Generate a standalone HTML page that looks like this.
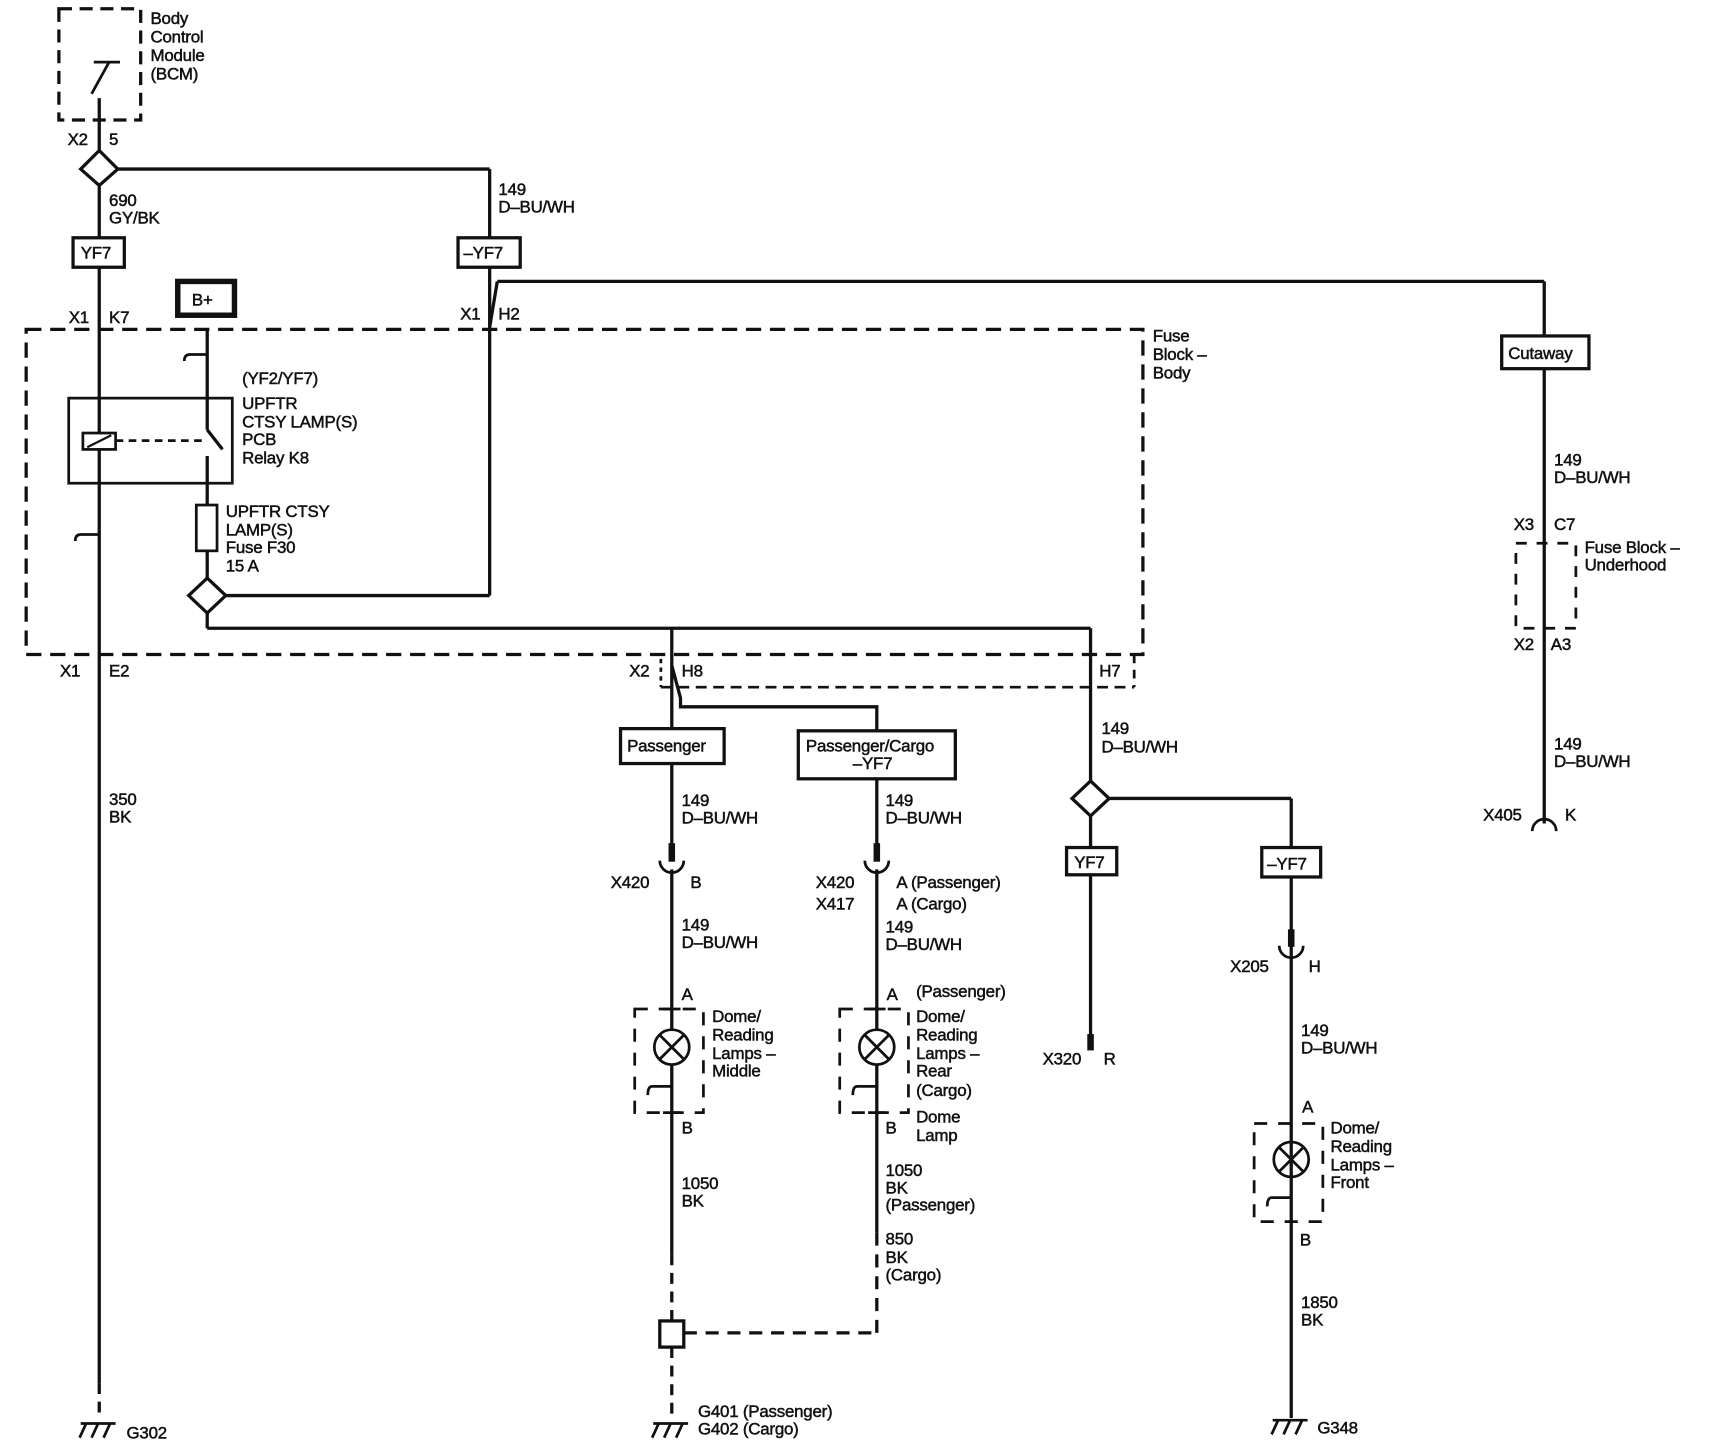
<!DOCTYPE html>
<html><head><meta charset="utf-8"><style>
html,body{margin:0;padding:0;background:#fff;width:1710px;height:1454px;overflow:hidden}
svg{display:block}
text{font-family:"Liberation Sans",Arial,sans-serif;font-size:15.5px;fill:#111;stroke:#111;stroke-width:0.45;letter-spacing:-0.2px}
</style></head><body>
<svg width="1710" height="1454" viewBox="0 0 1568 1333" preserveAspectRatio="none" xmlns="http://www.w3.org/2000/svg">
<g fill="none" stroke="#111" stroke-width="3">
<!-- BCM -->
<rect x="54" y="8" width="75" height="102" stroke-dasharray="12,7"/>
<line x1="86" y1="57" x2="110" y2="57" stroke-width="2.5"/>
<line x1="100" y1="57" x2="84" y2="86" stroke-width="2.5"/>
<!-- wire A -->
<line x1="91" y1="90" x2="91" y2="1268"/>
<line x1="91" y1="1268" x2="91" y2="1302" stroke-dasharray="10,7"/>
<path d="M91,138 L108,155 L91,170 L74,155 Z" fill="#fff"/>
<line x1="108" y1="155" x2="449" y2="155"/>
<line x1="449" y1="155" x2="449" y2="546"/>
<line x1="449" y1="300" x2="456" y2="258"/>
<line x1="456" y1="258" x2="1416" y2="258"/>
<line x1="1416" y1="258" x2="1416" y2="755"/>
<!-- boxes -->
<rect x="67" y="218" width="47" height="27" fill="#fff"/>
<rect x="420" y="218" width="57" height="27" fill="#fff"/>
<rect x="163" y="258" width="52" height="31" stroke-width="5" fill="#fff"/>
<rect x="1377" y="308" width="80" height="30" fill="#fff"/>
<!-- fuse block body -->
<rect x="24" y="302" width="1024" height="298" stroke-dasharray="14,8"/>
<!-- B+ wire -->
<line x1="190" y1="302" x2="190" y2="394"/>
<line x1="190" y1="394" x2="204" y2="412"/>
<line x1="190" y1="418" x2="190" y2="530"/>
<path d="M190,325 L174,325 M174,325 q-5,0 -5,6" stroke-width="2.5"/>
<path d="M91,490 L74,490 M74,490 q-5,0 -5,6" stroke-width="2.5"/>
<rect x="63" y="365" width="150" height="78" stroke-width="2.5"/>
<rect x="76" y="397" width="30" height="15" fill="#fff" stroke-width="2.5"/>
<line x1="80" y1="410" x2="102" y2="399" stroke-width="2"/>
<line x1="106" y1="404" x2="186" y2="404" stroke-dasharray="7,5" stroke-width="2.5"/>
<rect x="180" y="463" width="19" height="42" fill="#fff" stroke-width="2.5"/>
<path d="M190,530 L207,546 L190,562 L173,546 Z" fill="#fff"/>
<line x1="207" y1="546" x2="449" y2="546"/>
<line x1="190" y1="562" x2="190" y2="576"/>
<line x1="190" y1="576" x2="1000" y2="576"/>
<!-- H8 branch -->
<line x1="616" y1="576" x2="616" y2="775"/>
<path d="M616,610 L624,640 L624,648 L804,648 L804,775" />
<line x1="606" y1="604" x2="606" y2="630" stroke-dasharray="4,4" stroke-width="2.5"/>
<line x1="606" y1="630" x2="1040" y2="630" stroke-dasharray="10,6" stroke-width="2.5"/>
<line x1="1040" y1="600" x2="1040" y2="630" stroke-dasharray="8,6" stroke-width="2.5"/>
<rect x="569" y="668" width="95" height="32" fill="#fff"/>
<rect x="732" y="670" width="144" height="44" fill="#fff"/>
<!-- connectors X420 -->
<line x1="616" y1="773" x2="616" y2="790" stroke-width="6"/>
<line x1="804" y1="773" x2="804" y2="790" stroke-width="6"/>
<path d="M605,789 A11,11 0 0 0 627,789" stroke-width="2.5"/>
<path d="M793,789 A11,11 0 0 0 815,789" stroke-width="2.5"/>
<line x1="616" y1="797" x2="616" y2="1150"/>
<line x1="804" y1="797" x2="804" y2="1130"/>
<!-- lamp boxes -->
<rect x="582" y="925" width="63" height="95" stroke-dasharray="12,10" stroke-width="2.5"/>
<rect x="770" y="925" width="63" height="95" stroke-dasharray="12,10" stroke-width="2.5"/>
<rect x="1150" y="1030" width="63" height="90" stroke-dasharray="12,10" stroke-width="2.5"/>
<g stroke-width="2.5">
<circle cx="616" cy="960" r="16" fill="#fff"/><path d="M605,949 L627,971 M627,949 L605,971"/>
<circle cx="804" cy="960" r="16" fill="#fff"/><path d="M793,949 L815,971 M815,949 L793,971"/>
<circle cx="1184" cy="1063" r="16" fill="#fff"/><path d="M1173,1052 L1195,1074 M1195,1052 L1173,1074"/>
<path d="M616,996 L598,996 q-4,0 -4,8"/>
<path d="M804,996 L786,996 q-4,0 -4,8"/>
<path d="M1184,1098 L1166,1098 q-4,0 -4,8"/>
<line x1="608" y1="925" x2="624" y2="925"/><line x1="796" y1="925" x2="812" y2="925"/>
<line x1="608" y1="1020" x2="624" y2="1020"/><line x1="796" y1="1020" x2="812" y2="1020"/>
</g>
<!-- grounds path middle -->
<line x1="616" y1="1150" x2="616" y2="1210" stroke-dasharray="10,7"/>
<rect x="605" y="1211" width="22" height="24" fill="#fff"/>
<line x1="627" y1="1222" x2="804" y2="1222" stroke-dasharray="12,8"/>
<line x1="804" y1="1130" x2="804" y2="1222" stroke-dasharray="12,8"/>
<line x1="616" y1="1235" x2="616" y2="1302" stroke-dasharray="10,7"/>
<!-- H7 wire -->
<line x1="1000" y1="576" x2="1000" y2="716"/>
<path d="M1000,716 L1017,732 L1000,748 L983,732 Z" fill="#fff"/>
<line x1="1017" y1="732" x2="1184" y2="732"/>
<line x1="1000" y1="748" x2="1000" y2="950"/>
<line x1="1000" y1="948" x2="1000" y2="963" stroke-width="6"/>
<rect x="978" y="777" width="46" height="25" fill="#fff"/>
<line x1="1184" y1="732" x2="1184" y2="1300"/>
<rect x="1157" y="777" width="54" height="27" fill="#fff"/>
<line x1="1184" y1="852" x2="1184" y2="868" stroke-width="6"/>
<path d="M1173,867 A11,11 0 0 0 1195,867" stroke-width="2.5"/>
<!-- underhood -->
<rect x="1390" y="498" width="55" height="78" stroke-dasharray="10,9" stroke-width="2.5"/>
<path d="M1405,762 A11,11 0 0 1 1427,762" stroke-width="2.5"/>
<!-- ground symbols -->
<g stroke-width="2.5">
<path d="M74,1305 L106,1305 M79,1305 L73,1318 M90,1305 L84,1318 M101,1305 L95,1318"/>
<path d="M599,1305 L631,1305 M604,1305 L598,1318 M615,1305 L609,1318 M626,1305 L620,1318"/>
<path d="M1167,1302 L1199,1302 M1172,1302 L1166,1315 M1183,1302 L1177,1315 M1194,1302 L1188,1315"/>
</g>
</g>
<g>
<text x="138" y="22">Body</text><text x="138" y="39">Control</text><text x="138" y="56">Module</text><text x="138" y="73">(BCM)</text>
<text x="62" y="133">X2</text><text x="100" y="133">5</text>
<text x="100" y="189">690</text><text x="100" y="205">GY/BK</text>
<text x="457" y="179">149</text><text x="457" y="195">D–BU/WH</text>
<text x="74" y="237">YF7</text><text x="425" y="237">–YF7</text>
<text x="176" y="280">B+</text>
<text x="1383" y="329">Cutaway</text>
<text x="63" y="296">X1</text><text x="100" y="296">K7</text>
<text x="422" y="293">X1</text><text x="457" y="293">H2</text>
<text x="1057" y="313">Fuse</text><text x="1057" y="330">Block –</text><text x="1057" y="347">Body</text>
<text x="222" y="352">(YF2/YF7)</text><text x="222" y="375">UPFTR</text><text x="222" y="392">CTSY LAMP(S)</text><text x="222" y="408">PCB</text><text x="222" y="425">Relay K8</text>
<text x="207" y="474">UPFTR CTSY</text><text x="207" y="491">LAMP(S)</text><text x="207" y="507">Fuse F30</text><text x="207" y="524">15 A</text>
<text x="55" y="620">X1</text><text x="100" y="620">E2</text>
<text x="577" y="620">X2</text><text x="625" y="620">H8</text><text x="1008" y="620">H7</text>
<text x="100" y="738">350</text><text x="100" y="754">BK</text>
<text x="575" y="689">Passenger</text>
<text x="739" y="689">Passenger/Cargo</text><text x="782" y="705">–YF7</text>
<text x="1010" y="673">149</text><text x="1010" y="690">D–BU/WH</text>
<text x="625" y="739">149</text><text x="625" y="755">D–BU/WH</text>
<text x="812" y="739">149</text><text x="812" y="755">D–BU/WH</text>
<text x="985" y="796">YF7</text><text x="1162" y="797">–YF7</text>
<text x="560" y="814">X420</text><text x="633" y="814">B</text>
<text x="748" y="814">X420</text><text x="822" y="814">A (Passenger)</text>
<text x="748" y="834">X417</text><text x="822" y="834">A (Cargo)</text>
<text x="625" y="853">149</text><text x="625" y="869">D–BU/WH</text>
<text x="812" y="855">149</text><text x="812" y="871">D–BU/WH</text>
<text x="1128" y="891">X205</text><text x="1200" y="891">H</text>
<text x="625" y="917">A</text><text x="813" y="917">A</text><text x="840" y="914">(Passenger)</text>
<text x="653" y="937">Dome/</text><text x="653" y="954">Reading</text><text x="653" y="971">Lamps –</text><text x="653" y="987">Middle</text>
<text x="840" y="937">Dome/</text><text x="840" y="954">Reading</text><text x="840" y="971">Lamps –</text><text x="840" y="987">Rear</text><text x="840" y="1005">(Cargo)</text>
<text x="625" y="1039">B</text><text x="812" y="1039">B</text><text x="840" y="1029">Dome</text><text x="840" y="1046">Lamp</text>
<text x="1193" y="950">149</text><text x="1193" y="966">D–BU/WH</text>
<text x="956" y="976">X320</text><text x="1012" y="976">R</text>
<text x="1194" y="1020">A</text>
<text x="1220" y="1039">Dome/</text><text x="1220" y="1056">Reading</text><text x="1220" y="1073">Lamps –</text><text x="1220" y="1089">Front</text>
<text x="1192" y="1142">B</text>
<text x="625" y="1090">1050</text><text x="625" y="1106">BK</text>
<text x="812" y="1078">1050</text><text x="812" y="1094">BK</text><text x="812" y="1110">(Passenger)</text>
<text x="812" y="1141">850</text><text x="812" y="1158">BK</text><text x="812" y="1174">(Cargo)</text>
<text x="1193" y="1199">1850</text><text x="1193" y="1215">BK</text>
<text x="116" y="1319">G302</text>
<text x="640" y="1299">G401 (Passenger)</text><text x="640" y="1315">G402 (Cargo)</text>
<text x="1208" y="1314">G348</text>
<text x="1425" y="427">149</text><text x="1425" y="443">D–BU/WH</text>
<text x="1388" y="486">X3</text><text x="1425" y="486">C7</text>
<text x="1453" y="507">Fuse Block –</text><text x="1453" y="523">Underhood</text>
<text x="1388" y="596">X2</text><text x="1422" y="596">A3</text>
<text x="1425" y="687">149</text><text x="1425" y="703">D–BU/WH</text>
<text x="1360" y="752">X405</text><text x="1435" y="752">K</text>
</g>
</svg>
</body></html>
